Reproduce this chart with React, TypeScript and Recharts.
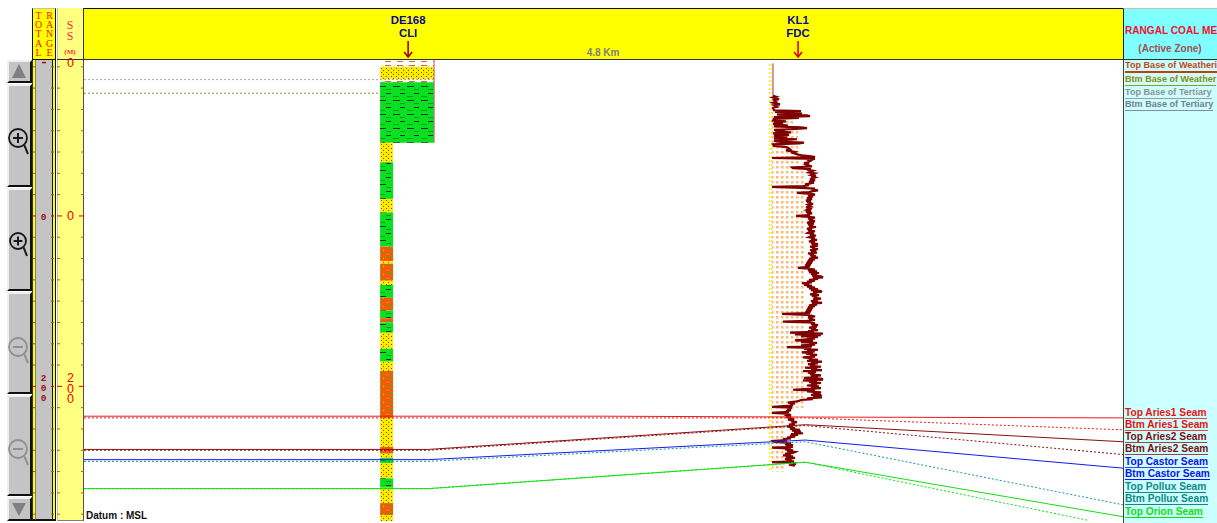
import React from "react";
import { ComposedChart, Line, XAxis, YAxis, ReferenceArea } from "recharts";

const wells = [
  { km: 0, name: "DE168", log: "CLI", arrow: "#a00000" },
  { km: 4.8, name: "KL1", log: "FDC", arrow: "#e00000" },
];
const spacingLabel = { km: 2.4, text: "4.8 Km" };

const depthTicks = [
  -175, -150, -125, -100, -75, -50, -25, 0, 25, 50, 75, 100, 125, 150, 175, 200, 225, 250, 275, 300, 325, 350,
];
const labelledTicks = [0, 200];
const clippedTick = -175;

const topMarkers = [
  { name: "Top Base of Weathering", color: "#a8a8a8", data: [{ x: -3.99, d: -160 }, { x: 0.32, d: -160 }] },
  { name: "Btm Base of Weathering", color: "#909030", data: [{ x: -3.99, d: -144 }, { x: -0.345, d: -144 }] },
];

const seams = [
  { name: "Top Aries1", color: "#f01818", dash: undefined, data: [{ x: -3.99, d: 235 }, { x: 0.25, d: 235 }, { x: 2.4, d: 235 }, { x: 4.89, d: 236 }, { x: 8.8, d: 237 }] },
  { name: "Btm Aries1", color: "#f01818", dash: "2 2", data: [{ x: -3.99, d: 237 }, { x: 0.25, d: 237 }, { x: 4.89, d: 237 }, { x: 8.8, d: 251 }] },
  { name: "Top Aries2", color: "#8b0f0f", dash: undefined, data: [{ x: -3.99, d: 274 }, { x: 0.25, d: 274 }, { x: 4.89, d: 245 }, { x: 8.8, d: 265 }] },
  { name: "Btm Aries2", color: "#8b0f0f", dash: "2 2", data: [{ x: -3.99, d: 275 }, { x: 0.25, d: 275 }, { x: 4.89, d: 246 }, { x: 8.8, d: 280 }] },
  { name: "Top Pollux", color: "#189898", dash: "2 2", data: [{ x: -3.99, d: 288 }, { x: 0.25, d: 288 }, { x: 4.89, d: 265 }, { x: 8.8, d: 339 }] },
  { name: "Top Castor", color: "#1818f0", dash: undefined, data: [{ x: -3.99, d: 286 }, { x: 0.25, d: 286 }, { x: 4.89, d: 263 }, { x: 8.8, d: 296 }] },
  { name: "Btm Orion", color: "#10e010", dash: "2 2", data: [{ x: -3.99, d: 320 }, { x: 0.25, d: 320 }, { x: 4.89, d: 289 }, { x: 8.36, d: 357 }] },
  { name: "Top Orion", color: "#10e010", dash: undefined, data: [{ x: -3.99, d: 320 }, { x: 0.25, d: 320 }, { x: 4.89, d: 289 }, { x: 8.8, d: 353 }] },
];

const de168Edge = [{ x: 0.32, d: -183 }, { x: 0.32, d: -86 }];

const de168Wide = [
  { top: -183, base: -175, rock: "soil" },
  { top: -175, base: -160, rock: "sand" },
  { top: -160, base: -157, rock: "soil" },
  { top: -157, base: -86, rock: "shale" },
];
const de168Narrow = [
  { top: -86, base: -63, rock: "sand" },
  { top: -63, base: -20, rock: "shale" },
  { top: -20, base: -4, rock: "sand" },
  { top: -4, base: 36, rock: "shale" },
  { top: 36, base: 53, rock: "silt" },
  { top: 53, base: 56, rock: "sand" },
  { top: 56, base: 76, rock: "silt" },
  { top: 76, base: 81, rock: "sand" },
  { top: 81, base: 96, rock: "shale" },
  { top: 96, base: 111, rock: "silt" },
  { top: 111, base: 120, rock: "shale" },
  { top: 120, base: 125, rock: "silt" },
  { top: 125, base: 137, rock: "shale" },
  { top: 137, base: 156, rock: "sand" },
  { top: 156, base: 171, rock: "shale" },
  { top: 171, base: 182, rock: "sand" },
  { top: 182, base: 237, rock: "silt" },
  { top: 237, base: 271, rock: "sand" },
  { top: 271, base: 279, rock: "silt" },
  { top: 279, base: 284, rock: "sand" },
  { top: 284, base: 290, rock: "shale" },
  { top: 290, base: 308, rock: "sand" },
  { top: 308, base: 319, rock: "shale" },
  { top: 319, base: 337, rock: "sand" },
  { top: 337, base: 351, rock: "silt" },
  { top: 351, base: 358, rock: "sand" },
];

// KL1 shaded log fill: depth bands and how far (in log units) each reaches
const kl1Fill = [
  { top: -122, base: -100, reach: 22 },
  { top: -100, base: -80, reach: 27 },
  { top: -80, base: -60, reach: 30 },
  { top: -60, base: 225, reach: 34 },
  { top: 225, base: 300, reach: 14 },
];

const logBaseline: number[][] = [[-179,2],[-141,2]];
const logUpper: number[][] = [
  [-141,2],[-140,5],[-139,2],[-137,8],[-136,3],[-134,5],[-133,2],[-131,9],[-130,3],[-128,6],[-127,2],[-124,3],
  [-123,30],[-122,4],[-121,26],[-120,31],[-119,6],[-118,36],[-117,39],[-116,3],[-115,28],[-114,3],[-112,2],[-111,15],
  [-110,3],[-109,12],[-108,2],[-106,17],[-105,3],[-104,30],[-103,36],[-102,25],[-101,3],[-100,14],[-99,4],[-98,20],
  [-97,2],[-96,12],[-95,18],[-94,3],[-92,16],[-91,3],[-90,26],[-89,12],[-88,3],[-87,10],[-86,33],[-85,28],[-84,2],[-82,3],
];
const logMiddle: number[][] = [
  [-81,14],[-80,17],[-78,19],[-77,15],[-75,24],[-74,22],[-72,27],[-71,31],[-70,40],[-69,44],[-68,1],[-67,44],[-66,36],
  [-65,40],[-63,37],[-62,33],[-61,38],[-60,35],[-58,41],[-57,21],[-56,22],[-55,40],[-54,36],[-53,42],[-51,38],[-50,44],
  [-48,40],[-47,45],[-46,40],[-45,44],[-43,39],[-42,44],[-40,38],[-39,43],[-37,34],[-36,38],[-35,32],[-34,1],[-33,30],
  [-32,44],[-31,40],[-30,47],[-29,42],[-28,38],[-27,26],[-26,40],[-25,44],[-24,37],[-23,42],[-21,36],[-20,41],[-18,35],
  [-17,40],[-16,36],[-14,42],[-13,37],[-11,40],[-10,35],[-9,41],[-7,36],[-6,40],[-5,35],[-3,41],[-2,36],[-1,39],[0,25],
  [1,38],[2,44],[3,37],[4,42],[5,38],[6,44],[7,39],[8,36],[9,43],[10,37],[11,42],[12,38],[13,45],[14,39],[15,36],[16,41],
  [17,37],[18,44],[19,39],[20,37],[21,43],[22,39],[23,45],[24,40],[25,38],[26,44],[27,40],[28,46],[29,41],[30,38],[31,44],
  [32,40],[33,47],[34,41],[35,47],[36,39],[37,44],[38,41],[39,47],[40,39],[41,45],[42,40],[43,46],[44,37],[45,43],[46,39],
  [47,45],[48,40],[49,47],[50,38],[51,44],[52,37],[53,42],[54,36],[55,41],[56,35],[57,40],[58,34],[59,39],[60,35],[61,27],
  [62,38],[63,44],[64,37],[65,46],[66,38],[67,48],[68,40],[69,46],[70,41],[71,50],[72,52],[73,42],[74,47],[75,38],[76,44],
  [77,36],[78,41],[79,31],[80,38],[81,33],[82,41],[83,36],[84,44],[85,38],[86,47],[87,40],[88,49],[89,51],[90,42],[91,46],
  [92,39],[93,48],[94,41],[95,46],[96,43],[97,50],[98,42],[99,47],[100,40],[101,44],[102,51],[103,41],[104,46],[105,38],
  [106,44],[107,37],[108,42],[109,36],[110,41],[111,35],[112,40],[113,34],[114,39],[115,11],[116,36],[117,40],[118,44],
  [119,37],[120,42],[121,38],[122,44],[123,36],[124,12],[125,38],[126,44],[127,40],[128,47],[129,41],[130,46],[131,38],
];
const logLower: number[][] = [
  [132,45],[133,40],[134,47],[135,37],[136,43],[137,19],[138,52],[139,24],[140,50],[141,30],[142,47],[143,36],[144,44],
  [145,33],[146,24],[147,42],[148,30],[149,46],[150,38],[151,44],[152,30],[153,41],[154,16],[155,40],[156,33],[157,47],
  [158,36],[159,44],[160,31],[161,42],[162,35],[163,46],[164,39],[165,44],[166,32],[167,41],[168,38],[169,47],[170,36],
  [171,51],[172,40],[173,47],[174,37],[175,44],[176,39],[177,50],[178,34],[179,46],[180,40],[181,51],[182,32],[183,45],
  [184,37],[185,44],[186,39],[187,50],[188,40],[189,47],[190,33],[191,50],[192,52],[193,32],[194,46],[195,38],[196,50],
  [197,40],[198,46],[199,36],[200,48],[201,40],[202,50],[203,38],[204,22],[205,44],[206,36],[207,50],[208,42],[209,50],
  [210,40],[211,51],[212,42],[213,51],[214,36],[215,42],[216,30],[217,28],[218,24],[219,17],[220,24],[221,19],[222,22],
  [223,17],[224,1],[225,21],[226,19],[227,16],[228,20],[229,15],[230,18],[231,1],[232,16],[233,18],[234,16],[235,20],
  [236,15],[237,19],[238,21],[239,17],[240,23],[241,20],[242,26],[243,21],[244,24],[245,18],[246,22],[247,16],[248,20],
  [249,24],[250,19],[251,29],[252,21],[253,30],[254,23],[255,32],[256,20],[257,27],[258,19],[259,24],[260,16],[261,20],
  [262,12],[263,16],[264,2],[265,3],[266,14],[267,20],[268,14],[269,22],[270,15],[271,22],[272,1],[273,20],[274,14],
  [275,22],[276,16],[277,24],[278,22],[279,14],[280,20],[281,12],[282,22],[283,15],[284,24],[285,14],[286,21],[287,16],
  [288,23],[289,1],[290,22],[291,25],[292,18],[293,24],
];

const rightHeaderTitle = "RANGAL COAL ME";
const rightHeaderSub = "(Active Zone)";
const zoneLabels = [
  { text: "Top Base of Weatheri", color: "#c04818", rule: "#c83c08" },
  { text: "Btm Base of Weather", color: "#8a8a10", rule: "#9a9a20" },
  { text: "Top Base of Tertiary", color: "#909090", rule: "#a0a0a0" },
  { text: "Btm Base of Tertiary", color: "#708090", rule: "#8090a0" },
];
const seamLabels = [
  { text: "Top Aries1 Seam", color: "#f01010", rule: "#f04040" },
  { text: "Btm Aries1 Seam", color: "#e81010", rule: "#f04040" },
  { text: "Top Aries2 Seam", color: "#801010", rule: "#a04040" },
  { text: "Btm Aries2 Seam", color: "#801010", rule: "#a04040" },
  { text: "Top Castor Seam", color: "#1010f0", rule: "#4040f0" },
  { text: "Btm Castor Seam", color: "#1010f0", rule: "#1010f0" },
  { text: "Top Pollux Seam", color: "#108888", rule: "#108888" },
  { text: "Btm Pollux Seam", color: "#108888", rule: "#108888" },
  { text: "Top Orion Seam", color: "#10e010", rule: "#10e010" },
];
const zoneLabelTops = [60, 74, 87, 99];
const seamLabelTops = [407, 419, 431, 443, 456, 468, 481, 493, 506];
const zoneRuleHeights = [2, 1, 1, 1];

const toPoints = (rows: number[][]) => rows.map(([d, v]) => ({ x: v, d }));
const logThin = toPoints(logBaseline);
const logCurve = toPoints([...logUpper, ...logMiddle, ...logLower]);

const patternOf = (rock: string) => `url(#${rock})`;

function SsTick(props: any) {
  const { x, y, payload } = props;
  const v = payload.value;
  const major = labelledTicks.includes(v);
  const color = major ? "#e00000" : "#a06810";
  const len = major ? 5 : 3;
  const digits = String(v).split("");
  const font = { fill: "#f00000", fontFamily: "'Liberation Sans'", fontSize: 12.5 };
  return (
    <g>
      <line x1={x - 27} x2={x - 27 + len} y1={y} y2={y} stroke={color} />
      <line x1={x - len} x2={x} y1={y} y2={y} stroke={color} />
      {major &&
        digits.map((c, i) => (
          <text key={i} x={x - 13.5} y={y + (digits.length === 1 ? 4.5 : -4 + i * 10.5)} textAnchor="middle" {...font}>
            {c}
          </text>
        ))}
      {v === clippedTick && (
        <text x={x - 13.5} y={y + 0.5} textAnchor="middle" {...font}>
          0
        </text>
      )}
    </g>
  );
}

function TotalTick(props: any) {
  const { x, y, payload } = props;
  const v = payload.value;
  const major = labelledTicks.includes(v);
  const digits = String(v).split("");
  return (
    <g>
      <line x1={x - 24} x2={x - 21} y1={y} y2={y} stroke={major ? "#e00000" : "#a06810"} />
      <line x1={x - 6} x2={x - 3} y1={y} y2={y} stroke={major ? "#e00000" : "#a06810"} />
      {major &&
        digits.map((c, i) => (
          <text key={i} x={x - 13.5} y={y + (digits.length === 1 ? 4 : -5 + i * 10)} textAnchor="middle" fill="#a01010" fontFamily="'Liberation Mono'" fontSize={9.5} fontWeight="bold">
            {c}
          </text>
        ))}
      {v === clippedTick && <rect x={x - 15} y={y - 5} width={4} height={1.5} fill="#a01010" />}
    </g>
  );
}

function WellTick(props: any) {
  const { x, y, payload } = props;
  const v = payload.value;
  if (v === spacingLabel.km) {
    return (
      <text x={x} y={y - 4} textAnchor="middle" fill="#808080" fontFamily="'Liberation Sans'" fontSize={10} fontWeight="bold">
        {spacingLabel.text}
      </text>
    );
  }
  const w = wells.find((e) => e.km === v)!;
  return (
    <g>
      <text x={x} y={y - 36} textAnchor="middle" fill="#0a0a90" fontFamily="'Liberation Sans'" fontSize={11.4} fontWeight="bold">
        {w.name}
      </text>
      <text x={x} y={y - 23} textAnchor="middle" fill="#0a0a90" fontFamily="'Liberation Sans'" fontSize={11.4} fontWeight="bold">
        {w.log}
      </text>
      <path d={`M${x} ${y - 19}V${y - 3}M${x - 4} ${y - 8}L${x} ${y - 3}L${x + 4} ${y - 8}`} fill="none" stroke={w.arrow} strokeWidth={1.6} />
    </g>
  );
}

const boxBase: React.CSSProperties = { position: "absolute", boxSizing: "border-box" };

function Bevel({ top, height, children }: { top: number; height: number; children?: React.ReactNode }) {
  return (
    <div
      style={{
        ...boxBase,
        left: 7,
        top,
        width: 25,
        height,
        background: "#c4c4c4",
        borderTop: "2px solid #f0f0f0",
        borderLeft: "2px solid #f0f0f0",
        borderBottom: "2px solid #101010",
        borderRight: "2px solid #101010",
      }}
    >
      {children}
    </div>
  );
}

function Lens({ color, sign, r }: { color: string; sign: "plus" | "minus"; r: number }) {
  const c = 11;
  return (
    <svg width={25} height={36} style={{ position: "absolute", left: -2, top: 0, overflow: "visible" }}>
      <circle cx={c} cy={c + 2} r={r} fill="none" stroke={color} strokeWidth={1.8} />
      <path d={`M${c - r * 0.55} ${c + 2}H${c + r * 0.55}`} stroke={color} strokeWidth={2} />
      {sign === "plus" && <path d={`M${c} ${c + 2 - r * 0.55}V${c + 2 + r * 0.55}`} stroke={color} strokeWidth={2} />}
      <path d={`M${c + r * 0.7} ${c + 2 + r * 0.8}L${c + r + 1} ${c + r + 9}`} stroke={color} strokeWidth={2} />
    </svg>
  );
}

function SideLabel({ text, color, rule, top, ruleH, size }: { text: string; color: string; rule: string; top: number; ruleH: number; size: number }) {
  return (
    <div
      style={{
        ...boxBase,
        left: 1125,
        top,
        whiteSpace: "nowrap",
        fontFamily: "'Liberation Sans'",
        fontSize: size,
        fontWeight: "bold",
        lineHeight: "11px",
        color,
        borderBottom: `${ruleH}px solid ${rule}`,
      }}
    >
      {text}
    </div>
  );
}

export default function App() {
  return (
    <div style={{ position: "absolute", left: 0, top: 0, width: 1217, height: 523, overflow: "hidden", background: "#fff" }}>
      {/* header strip */}
      <div style={{ ...boxBase, left: 84, top: 8, width: 1039, height: 52, background: "#ffff00", borderTop: "1px solid #101010", borderBottom: "1px solid #303030" }} />
      {/* Total range column */}
      <div style={{ ...boxBase, left: 32, top: 8, width: 24, height: 513, background: "#ffff00", borderRight: "1px solid #101010", borderLeft: "1px solid #303030", borderBottom: "2px solid #101010" }} />
      <div style={{ ...boxBase, left: 35, top: 60, width: 18, height: 460, background: "#c4c4c4", borderRight: "1px solid #101010", borderLeft: "1px solid #808080", borderBottom: "1px solid #101010" }} />
      <div style={{ ...boxBase, left: 32, top: 8, width: 24, height: 52, border: "1px solid #101010", borderTopColor: "#c0c0c0", color: "#f01010", fontFamily: "'Liberation Serif'", fontSize: 10, lineHeight: "9.2px", display: "flex", justifyContent: "space-around", textAlign: "center", paddingTop: 2 }}>
        <div>
          {"TOTAL".split("").map((c, i) => (
            <div key={i}>{c}</div>
          ))}
        </div>
        <div>
          {"RANGE".split("").map((c, i) => (
            <div key={i}>{c}</div>
          ))}
        </div>
      </div>
      {/* SS column */}
      <div style={{ ...boxBase, left: 57, top: 8, width: 27, height: 513, background: "#ffff80", borderRight: "1px solid #505050", borderLeft: "1px solid #c0c0c0", borderBottom: "1px solid #808080" }} />
      <div style={{ ...boxBase, left: 57, top: 8, width: 27, height: 52, borderBottom: "1px solid #303030", borderRight: "1px solid #303030", color: "#f03030", fontFamily: "'Liberation Serif'", textAlign: "center" }}>
        <div style={{ fontSize: 12, lineHeight: "11px", marginTop: 12 }}>S</div>
        <div style={{ fontSize: 12, lineHeight: "11px" }}>S</div>
        <div style={{ fontSize: 7, lineHeight: "8px", marginTop: 6, fontWeight: "bold" }}>(M)</div>
      </div>
      {/* right panel */}
      <div style={{ ...boxBase, left: 1123, top: 60, width: 94, height: 463, background: "#ccffff", borderLeft: "1.5px solid #404040" }} />
      <div style={{ ...boxBase, left: 1123, top: 8, width: 94, height: 52, background: "#80ffff", borderLeft: "1.5px solid #202020", borderBottom: "1px solid #303030", borderTop: "1px solid #c0c0c0", overflow: "hidden", whiteSpace: "nowrap", fontFamily: "'Liberation Sans'", fontWeight: "bold" }}>
        <div style={{ position: "absolute", left: 1, top: 16, fontSize: 10.1, color: "#f01030" }}>{rightHeaderTitle}</div>
        <div style={{ position: "absolute", left: 0, width: 92, textAlign: "center", top: 34, fontSize: 10, color: "#a05050" }}>{rightHeaderSub}</div>
      </div>
      {/* buttons */}
      <Bevel top={60} height={23}>
        <svg width={21} height={19} style={{ position: "absolute", left: 0, top: 0 }}>
          <path d="M9 2L2 16H16Z" fill="#808080" transform="translate(1 0)" />
        </svg>
      </Bevel>
      <Bevel top={84} height={103}>
        <div style={{ position: "absolute", left: 0, top: 39 }}>
          <Lens color="#181818" sign="plus" r={9} />
        </div>
      </Bevel>
      <Bevel top={188} height={103}>
        <div style={{ position: "absolute", left: 0, top: 38 }}>
          <Lens color="#181818" sign="plus" r={8} />
        </div>
      </Bevel>
      <Bevel top={292} height={102}>
        <div style={{ position: "absolute", left: 0, top: 40 }}>
          <Lens color="#909090" sign="minus" r={9} />
        </div>
      </Bevel>
      <Bevel top={395} height={101}>
        <div style={{ position: "absolute", left: 0, top: 39 }}>
          <Lens color="#909090" sign="minus" r={9} />
        </div>
      </Bevel>
      <Bevel top={497} height={24}>
        <svg width={21} height={20} style={{ position: "absolute", left: 0, top: 0 }}>
          <path d="M10 17L3 4H17Z" fill="#808080" />
        </svg>
      </Bevel>

      <div style={{ position: "absolute", left: 0, top: 0 }}>
        <ComposedChart width={1217} height={523} margin={{ top: 8, right: 94, bottom: 2, left: 33 }}>
          <defs>
            <pattern id="sand" width={5} height={4} patternUnits="userSpaceOnUse">
              <rect width={5} height={4} fill="#ffee00" />
              <rect x={1} y={0} width={1} height={1} fill="#605000" />
              <rect x={3} y={2} width={1} height={1} fill="#605000" />
              <rect x={3.5} y={0.5} width={1} height={1} fill="#ff9000" opacity={0.6} />
            </pattern>
            <pattern id="shale" width={14} height={14} patternUnits="userSpaceOnUse">
              <rect width={14} height={14} fill="#08e020" />
              <rect x={1} y={2} width={7} height={1} fill="#083010" />
              <rect x={8} y={9} width={5} height={1} fill="#083010" />
              <rect x={8} y={5} width={5} height={1} fill="#08a018" />
              <rect x={1} y={12} width={6} height={1} fill="#08a018" />
            </pattern>
            <pattern id="silt" width={11} height={8} patternUnits="userSpaceOnUse">
              <rect width={11} height={8} fill="#f85a08" />
              <rect x={1} y={1} width={6} height={1} fill="#60a010" />
              <rect x={5} y={5} width={5} height={1} fill="#60a010" />
              <rect x={9} y={2} width={1} height={1} fill="#ffc040" />
              <rect x={2} y={6} width={1} height={1} fill="#ffc040" />
            </pattern>
            <pattern id="soil" width={12} height={4} patternUnits="userSpaceOnUse">
              <rect width={12} height={4} fill="#fff" />
              <rect x={1} y={1} width={6} height={1} fill="#c87030" />
            </pattern>
            <pattern id="kl1Strip" width={3} height={4} patternUnits="userSpaceOnUse">
              <rect width={2} height={2} fill="#ffee00" />
            </pattern>
            <pattern id="kl1Dots" width={5} height={5} patternUnits="userSpaceOnUse">
              <rect x={1} y={1} width={2.5} height={2.5} fill="#ffb870" />
            </pattern>
          </defs>

          <XAxis xAxisId="km" type="number" dataKey="x" orientation="top" height={52} domain={[-3.99, 8.8]} allowDataOverflow ticks={[wells[0].km, spacingLabel.km, wells[1].km]} interval={0} tick={<WellTick />} tickLine={false} axisLine={false} tickSize={0} tickMargin={0} />
          <XAxis xAxisId="log" type="number" dataKey="x" hide domain={[-687, 352]} allowDataOverflow />
          <YAxis yAxisId="ss" type="number" width={27} reversed domain={[-183, 358]} allowDataOverflow ticks={depthTicks} interval={0} tick={<SsTick />} tickLine={false} axisLine={false} tickSize={0} tickMargin={0} />
          <YAxis yAxisId="total" type="number" width={24} reversed domain={[-183, 358]} allowDataOverflow ticks={depthTicks} interval={0} tick={<TotalTick />} tickLine={false} axisLine={false} tickSize={0} tickMargin={0} />

          {de168Wide.map((b) => (
            <ReferenceArea key={`w${b.top}`} xAxisId="km" yAxisId="ss" x1={-0.345} x2={0.32} y1={b.top} y2={b.base} fill={patternOf(b.rock)} fillOpacity={1} stroke="none" />
          ))}
          {de168Narrow.map((b) => (
            <ReferenceArea key={`n${b.top}`} xAxisId="km" yAxisId="ss" x1={-0.345} x2={-0.185} y1={b.top} y2={b.base} fill={patternOf(b.rock)} fillOpacity={1} stroke="none" />
          ))}
          <ReferenceArea xAxisId="log" yAxisId="ss" x1={-2} x2={1} y1={-180} y2={300} fill="url(#kl1Strip)" fillOpacity={1} stroke="none" />
          {kl1Fill.map((b) => (
            <ReferenceArea key={`f${b.top}`} xAxisId="log" yAxisId="ss" x1={1} x2={b.reach} y1={b.top} y2={b.base} fill="url(#kl1Dots)" fillOpacity={1} stroke="none" />
          ))}

          <Line xAxisId="km" yAxisId="ss" data={de168Edge} dataKey="d" stroke="#d06070" strokeWidth={1} dot={false} isAnimationActive={false} />
          {topMarkers.map((s) => (
            <Line key={s.name} xAxisId="km" yAxisId="ss" data={s.data} dataKey="d" stroke={s.color} strokeWidth={1} strokeDasharray="2 2" dot={false} isAnimationActive={false} />
          ))}
          <Line xAxisId="log" yAxisId="ss" data={logThin} dataKey="d" stroke="#a03838" strokeWidth={1} dot={false} isAnimationActive={false} />
          <Line xAxisId="log" yAxisId="ss" data={logCurve} dataKey="d" stroke="#800000" strokeWidth={2.2} strokeLinejoin="miter" dot={false} isAnimationActive={false} />
          {seams.map((s) => (
            <Line key={s.name} xAxisId="km" yAxisId="ss" data={s.data} dataKey="d" stroke={s.color} strokeWidth={1} strokeDasharray={s.dash} dot={false} isAnimationActive={false} />
          ))}
        </ComposedChart>
      </div>

      {zoneLabels.map((l, i) => (
        <SideLabel key={l.text} text={l.text} color={l.color} rule={l.rule} top={zoneLabelTops[i]} ruleH={zoneRuleHeights[i]} size={9.1} />
      ))}
      {seamLabels.map((l, i) => (
        <SideLabel key={l.text} text={l.text} color={l.color} rule={l.rule} top={seamLabelTops[i]} ruleH={1} size={10.2} />
      ))}
      <div style={{ ...boxBase, left: 86, top: 510, fontFamily: "'Liberation Sans'", fontSize: 10, fontWeight: "bold", color: "#101010", lineHeight: "12px" }}>Datum : MSL</div>
    </div>
  );
}
